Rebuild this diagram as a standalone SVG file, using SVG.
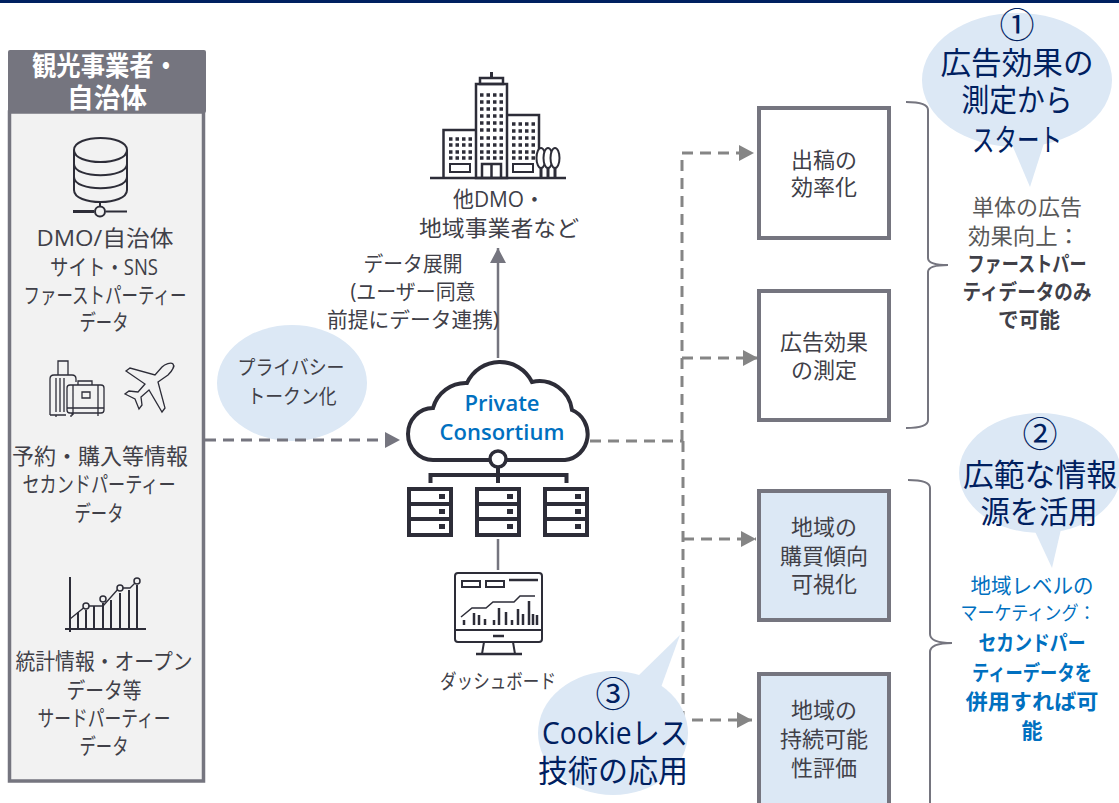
<svg xmlns="http://www.w3.org/2000/svg" width="1119" height="803" viewBox="0 0 1119 803">
<style>
text{font-family:"Open Sans","Noto Sans CJK JP",sans-serif;text-anchor:middle;dominant-baseline:central;fill:#404048;font-size:22px;transform:translateY(-1px)}
.head{font-size:27px;font-weight:700;fill:#fff}
.big{font-size:31px;fill:#002060}
.num{font-size:35px;fill:#002060}
.side{fill:#595959;font-size:22px}
.b{font-weight:700;fill:#404048;font-size:21px}
.blue{fill:#0070c0;font-size:21px}
.blue2{fill:#0070c0;font-size:19px}
.blueb{fill:#0070c0;font-weight:700;font-size:21px}
.pc{fill:#0070c0;font-weight:600;font-size:22px}
.lab{font-size:21px}
.small{font-size:20px}
.node{stroke:#75757f;stroke-width:4;fill:#fff}
.node2{stroke:#75757f;stroke-width:4;fill:#dce8f5}
.bub{fill:#dce8f5}
.ic{fill:none;stroke:#2d2d38;stroke-width:2}
.ict{fill:none;stroke:#2d2d38;stroke-width:1.300}
.sv{fill:#fff;stroke:#2d2d38;stroke-width:4}
.dk{fill:#2d2d38}
.dash{fill:none;stroke:#858585;stroke-width:3;stroke-dasharray:11 7}
.solid{fill:none;stroke:#75757f;stroke-width:2.500}
.brace{fill:none;stroke:#75757f;stroke-width:2}
.win{fill:none;stroke:#2d2d38;stroke-width:3.500;stroke-dasharray:3.500 3}
</style>
<defs>
<marker id="ah" markerUnits="userSpaceOnUse" markerWidth="16" markerHeight="16" refX="15" refY="8" orient="auto"><path d="M0 0L15 8L0 16Z" fill="#858585"/></marker>
<marker id="ah2" markerUnits="userSpaceOnUse" markerWidth="16" markerHeight="16" refX="15" refY="8" orient="auto"><path d="M0 0L15 8L0 16Z" fill="#75757f"/></marker>
<g id="server">
<rect x="2" y="1" width="42" height="15" class="sv"/><rect x="2" y="16" width="42" height="15" class="sv"/><rect x="2" y="31" width="42" height="16" class="sv"/>
<rect x="32" y="6" width="6" height="5" class="dk"/><rect x="32" y="21" width="6" height="5" class="dk"/><rect x="32" y="36" width="6" height="5" class="dk"/>
</g>
</defs>
<rect x="0" y="0" width="1119" height="3" fill="#002060"/>

<g id="panel">
<rect x="9.500" y="112" width="194" height="669" fill="#f2f2f2" stroke="#75757f" stroke-width="3.500"/>
<rect x="8" y="50" width="198" height="63" rx="2" fill="#75757f"/>
<text class="head" x="105" y="66" textLength="146" lengthAdjust="spacingAndGlyphs">観光事業者・</text>
<text class="head" x="107" y="98" textLength="80" lengthAdjust="spacingAndGlyphs">自治体</text>
</g>

<g id="src-dmo">
<path class="ic" d="M74 150C74 134 127 134 127 150V190C127 206 74 206 74 190Z"/>
<path class="ic" d="M74 150C74 166 127 166 127 150M74 164C74 179 127 179 127 164M74 177C74 192 127 192 127 177"/>
<path class="ic" d="M100 201V206"/>
<path d="M73 211.500H94" stroke="#2d2d38" stroke-width="3" fill="none"/><path d="M106 211.500H127" class="ic"/>
<circle cx="100" cy="211.500" r="5" fill="#f2f2f2" stroke="#2d2d38" stroke-width="2"/>
<text x="105" y="238" textLength="137" lengthAdjust="spacingAndGlyphs">DMO/自治体</text>
<text x="104" y="267" textLength="108" lengthAdjust="spacingAndGlyphs">サイト・SNS</text>
<text x="105" y="295" textLength="163" lengthAdjust="spacingAndGlyphs">ファーストパーティー</text>
<text x="104" y="322" textLength="49" lengthAdjust="spacingAndGlyphs">データ</text>
</g>

<g id="src-booking">
<path class="ict" d="M58 375V361H68V375M50 415V379Q50 375 54 375H72Q76 375 76 379V382M50 415H66M56 378V412M60 378V412M64 378V412M56 415V417M71 415V417"/>
<rect class="ict" x="67" y="385" width="37" height="28" rx="3"/>
<path class="ict" d="M78 385V381H92V385M67 408H104M73 385V415M98 385V415M82 392H90V398H82ZM72 413V416M98 413V416"/>
<path class="ict" d="M173 364C171 362 165 364 162 367L155 375L130 368L126 371L145 384L138 392L129 391L125 394L135 399L139 409L142 405L141 397L149 390L162 412L165 408L158 382L168 375C172 371 175 366 173 364Z"/>
<text x="100" y="456" textLength="176" lengthAdjust="spacingAndGlyphs">予約・購入等情報</text>
<text x="99" y="484" textLength="153" lengthAdjust="spacingAndGlyphs">セカンドパーティー</text>
<text x="99" y="513" textLength="49" lengthAdjust="spacingAndGlyphs">データ</text>
</g>

<g id="src-stats">
<path class="ic" d="M70 577V632M65 629H146"/>
<path class="ict" d="M70 619L86 606H103L119 588H130L137 581"/>
<path class="ic" d="M78 612V629M86 610V629M94 606V629M103 603V629M111 600V629M120 593V629M129 590V629M137 585V629"/>
<g fill="#f2f2f2" stroke="#2d2d38" stroke-width="1.500"><circle cx="86" cy="606" r="3"/><circle cx="103" cy="599" r="3"/><circle cx="120" cy="588" r="3"/><circle cx="137" cy="581" r="3"/></g>
<text x="104" y="661" textLength="177" lengthAdjust="spacingAndGlyphs">統計情報・オープン</text>
<text x="104" y="690" textLength="75" lengthAdjust="spacingAndGlyphs">データ等</text>
<text x="104" y="718" textLength="133" lengthAdjust="spacingAndGlyphs">サードパーティー</text>
<text x="104" y="746" textLength="49" lengthAdjust="spacingAndGlyphs">データ</text>
</g>

<g id="bubble-privacy">
<ellipse class="bub" cx="292" cy="383" rx="75" ry="58"/>
<text class="small" x="291" y="368" textLength="107" lengthAdjust="spacingAndGlyphs">プライバシー</text>
<text class="small" x="292" y="397" textLength="89" lengthAdjust="spacingAndGlyphs">トークン化</text>
</g>

<g id="connectors">
<path class="dash" d="M205 440H400" marker-end="url(#ah2)" style="stroke:#75757f"/>
<path class="solid" d="M498 358V248" marker-end="url(#ah2)"/>
<path class="solid" d="M498 539V570"/>
<path class="dash" d="M590 441H682"/>
<path class="dash" d="M682 441V153H754" marker-end="url(#ah)"/>
<path class="dash" d="M682 358H758" marker-end="url(#ah)"/>
<path class="dash" d="M683 441V720H752" marker-end="url(#ah)"/>
<path class="dash" d="M683 539H756" marker-end="url(#ah)"/>
</g>

<g id="buildings">
<path d="M430 178H566" stroke="#2d2d38" stroke-width="2.500"/>
<g class="ic" style="stroke-width:2.500">
<rect x="476" y="84" width="31" height="94"/>
<rect x="480" y="78" width="23" height="6"/>
<path d="M476 130H443.500V178M507 115H539V150"/>
<rect x="450" y="164" width="20" height="8" style="stroke-width:2"/>
<rect x="513" y="164" width="20" height="8" style="stroke-width:2"/>
<path d="M482 178V164H501V178M491.500 164V178"/>
</g>
<path d="M491.500 72V78" stroke="#2d2d38" stroke-width="3"/>
<path class="win" d="M480 95H504M480 102H504M480 109H504M480 116H504M480 123H504M480 130H504M480 138H504M480 145H504M480 152H504M480 158H504"/>
<path class="win" d="M449 139H472M449 145H472M449 152H472M449 158H472"/>
<path class="win" d="M512 124H535M512 131H535M512 138H535M512 145H535M512 152H535M512 158H535"/>
<g fill="#fff" stroke="#2d2d38" stroke-width="2"><ellipse cx="541" cy="158" rx="4.500" ry="10"/><ellipse cx="548" cy="158" rx="4.500" ry="10"/><ellipse cx="555" cy="158" rx="4.500" ry="10"/></g>
<path d="M541 168V178M548 168V178M555 168V178" stroke="#2d2d38" stroke-width="3"/>
<text x="499" y="199" textLength="92" lengthAdjust="spacingAndGlyphs">他DMO・</text>
<text x="499" y="228" textLength="160" lengthAdjust="spacingAndGlyphs">地域事業者など</text>
</g>

<g id="label-data">
<text class="lab" x="413" y="264" textLength="99" lengthAdjust="spacingAndGlyphs">データ展開</text>
<text class="lab" x="413" y="292" textLength="125" lengthAdjust="spacingAndGlyphs">(ユーザー同意</text>
<text class="lab" x="413" y="320" textLength="172" lengthAdjust="spacingAndGlyphs">前提にデータ連携)</text>
</g>

<g id="consortium">
<path d="M433 460A25 26 0 0 1 433 408A34 34 0 0 1 467 383A36 36 0 0 1 532 382A33 33 0 0 1 572 410A25 26 0 0 1 565 460Z" fill="#fff" stroke="#2d2d38" stroke-width="4"/>
<text class="pc" x="502" y="403">Private</text>
<text class="pc" x="502" y="432">Consortium</text>
<path d="M430.500 483V475H566.500V483M498 467V483" fill="none" stroke="#2d2d38" stroke-width="4"/>
<circle cx="498" cy="459" r="8" fill="#fff" stroke="#2d2d38" stroke-width="3.500"/>
<use href="#server" x="407" y="488"/>
<use href="#server" x="475" y="488"/>
<use href="#server" x="543" y="488"/>
</g>

<g id="dashboard">
<rect class="ic" x="455" y="573" width="87" height="69" rx="3"/>
<path class="ic" d="M455 630H542M484 642L482 654M513 642L515 654"/>
<path d="M476 654H522M493 636H504" stroke="#2d2d38" stroke-width="2.500"/>
<rect class="ic" x="462" y="581" width="18" height="6"/><rect class="ic" x="486" y="581" width="18" height="6"/>
<path d="M509 580H538" stroke="#2d2d38" stroke-width="2.500"/>
<path class="ic" style="stroke-width:1.500" d="M461 617L472 608H486L493 602H514L520 596H535"/>
<path stroke="#2d2d38" stroke-width="2.500" d="M464 620V625M474 613V625M479 615V625M485 619V625M494 620V625M499 608V625M506 612V625M512 620V625M518 609V625M523 614V625M529 601V625M533 614V625M537 615V625"/>
<text class="small" x="498" y="682" textLength="116" lengthAdjust="spacingAndGlyphs">ダッシュボード</text>
</g>

<g id="n1"><rect class="node" x="759" y="108" width="130" height="130"/><text x="824" y="160">出稿の</text><text x="824" y="187">効率化</text></g>
<g id="n2"><rect class="node" x="759" y="291" width="130" height="129"/><text x="824" y="342">広告効果</text><text x="824" y="370">の測定</text></g>
<g id="n3"><rect class="node2" x="759" y="491" width="130" height="129"/><text x="824" y="527">地域の</text><text x="824" y="556">購買傾向</text><text x="824" y="584">可視化</text></g>
<g id="n4"><rect class="node2" x="759" y="674" width="130" height="131"/><text x="824" y="710">地域の</text><text x="824" y="739">持続可能</text><text x="824" y="768">性評価</text></g>

<g id="braces">
<path class="brace" d="M906 102Q928 102 928 110V258Q928 265 948 265Q928 265 928 272V420Q928 428 906 428"/>
<path class="brace" d="M908 480Q930 480 930 488V634Q930 643 952 643Q930 643 930 652V803"/>
</g>

<g id="bubble1">
<path class="bub" d="M1010 140L1030 187L1045 140Z"/>
<ellipse class="bub" cx="1017" cy="80" rx="95" ry="67"/>
<text class="num" x="1017" y="25">①</text>
<text class="big" x="1017" y="63" textLength="153" lengthAdjust="spacingAndGlyphs">広告効果の</text>
<text class="big" x="1017" y="100" textLength="111" lengthAdjust="spacingAndGlyphs">測定から</text>
<text class="big" x="1017" y="140" textLength="90" lengthAdjust="spacingAndGlyphs">スタート</text>
</g>
<g id="note1">
<text class="side" x="1027" y="207">単体の広告</text>
<text class="side" x="1024" y="236" textLength="112" lengthAdjust="spacingAndGlyphs">効果向上：</text>
<text class="b" x="1027" y="264" textLength="119" lengthAdjust="spacingAndGlyphs">ファーストパー</text>
<text class="b" x="1027" y="292" textLength="129" lengthAdjust="spacingAndGlyphs">ティデータのみ</text>
<text class="b" x="1029" y="320" textLength="62" lengthAdjust="spacingAndGlyphs">で可能</text>
</g>

<g id="bubble2">
<path class="bub" d="M1032 525L1052 568L1062 525Z"/>
<ellipse class="bub" cx="1040" cy="473" rx="81" ry="60"/>
<text class="num" x="1040" y="434">②</text>
<text class="big" x="1040" y="475" textLength="154" lengthAdjust="spacingAndGlyphs">広範な情報</text>
<text class="big" x="1039" y="512" textLength="117" lengthAdjust="spacingAndGlyphs">源を活用</text>
</g>
<g id="note2">
<text class="blue" x="1032" y="586" textLength="123" lengthAdjust="spacingAndGlyphs">地域レベルの</text>
<text class="blue2" x="1028" y="614" textLength="135" lengthAdjust="spacingAndGlyphs">マーケティング：</text>
<text class="blueb" x="1032" y="643" textLength="107" lengthAdjust="spacingAndGlyphs">セカンドパー</text>
<text class="blueb" x="1032" y="673" textLength="120" lengthAdjust="spacingAndGlyphs">ティーデータを</text>
<text class="blueb" x="1032" y="702" textLength="133" lengthAdjust="spacingAndGlyphs">併用すれば可</text>
<text class="blueb" x="1032" y="731">能</text>
</g>

<g id="bubble3">
<path class="bub" d="M637 677L680 635L660 690Z"/>
<ellipse class="bub" cx="613" cy="733" rx="75" ry="62"/>
<text class="num" x="613" y="694">③</text>
<text class="big" x="615" y="733" textLength="146" lengthAdjust="spacingAndGlyphs">Cookieレス</text>
<text class="big" x="613" y="771" textLength="150" lengthAdjust="spacingAndGlyphs">技術の応用</text>
</g>
</svg>
